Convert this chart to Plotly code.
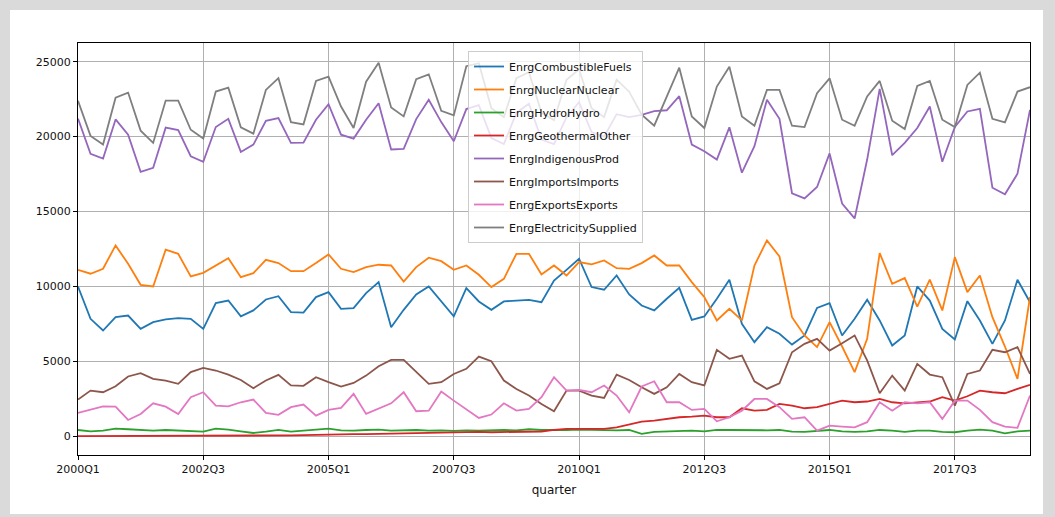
import plotly.graph_objects as go

quarters = [f"{y}Q{q}" for y in range(2000, 2020) for q in range(1, 5)][:77]
tick_labels = ["2000Q1", "2002Q3", "2005Q1", "2007Q3", "2010Q1", "2012Q3", "2015Q1", "2017Q3"]
y_ticks = [0, 5000, 10000, 15000, 20000, 25000]

combustible = [10000, 7840, 7060, 7950, 8060, 7170, 7620, 7800, 7880, 7840,
               7170, 8890, 9060, 8000, 8400, 9130, 9350, 8290, 8250, 9290,
               9620, 8510, 8550, 9550, 10290, 7280, 8440, 9470, 10000, 9000,
               8000, 9890, 9000, 8440, 9000, 9060, 9110, 8950, 10400, 11110,
               11850, 9960, 9780, 10730, 9470, 8730, 8400, 9180, 9910, 7770,
               8000, 9180, 10450, 7510, 6280, 7280, 6840, 6120, 6730, 8570,
               8890, 6730, 7840, 9110, 7730, 6060, 6730, 10000, 9060, 7170,
               6460, 9020, 7730, 6170, 7730, 10450, 8950]
nuclear = [11110, 10850, 11180, 12740, 11510, 10110, 10000, 12450, 12180, 10670,
           10910, 11400, 11890, 10620, 10890, 11780, 11560, 11020, 11020, 11560,
           12140, 11180, 10960, 11290, 11450, 11400, 10330, 11290, 11920, 11690,
           11110, 11400, 10780, 9960, 10510, 12180, 12180, 10800, 11400, 10730,
           11630, 11470, 11740, 11220, 11180, 11560, 12070, 11400, 11400, 10290,
           9290, 7730, 8510, 7730, 11400, 13070, 12000, 7950, 6730, 5950,
           7620, 5990, 4280, 6500, 12230, 10180, 10560, 8660, 10450, 8400,
           11960, 9620, 10730, 7950, 5990, 3830, 9300]
hydro = [420, 330, 380, 510, 470, 400, 380, 420, 380, 330,
         310, 510, 450, 330, 220, 310, 420, 310, 380, 420,
         510, 400, 380, 420, 450, 380, 420, 420, 380, 400,
         360, 400, 380, 420, 420, 400, 470, 420, 400, 420,
         450, 420, 400, 400, 420, 160, 300, 330, 380, 380,
         330, 420, 420, 400, 380, 400, 420, 310, 290, 350,
         420, 330, 290, 330, 420, 380, 290, 380, 380, 290,
         270, 380, 450, 380, 200, 330, 380]
geothermal = [10, 10, 10, 10, 15, 15, 20, 20, 25, 25,
              30, 30, 30, 30, 35, 40, 50, 60, 80, 100,
              150, 130, 140, 150, 170, 180, 190, 210, 230, 240,
              260, 280, 290, 270, 280, 290, 300, 320, 420, 490,
              490, 490, 500, 600, 780, 980, 1050, 1160, 1270, 1310,
              1380, 1270, 1270, 1870, 1710, 1760, 2160, 2050, 1870, 1940,
              2160, 2380, 2270, 2320, 2490, 2270, 2200, 2250, 2320, 2610,
              2380, 2670, 3050, 2940, 2870, 3160, 3430]
indigenous = [21200, 18850, 18540, 21150, 20130, 17650, 17920, 20600, 20440, 18690,
              18320, 20640, 21190, 18980, 19470, 21060, 21240, 19580, 19600, 21130,
              22170, 20130, 19870, 21130, 22230, 19140, 19180, 21170, 22460, 20970,
              19690, 21840, 22100, 19900, 19500, 21600, 22200, 19800, 19500, 21300,
              22300, 20300, 20000, 21500, 21300, 21460, 21700, 21760, 22700, 19470,
              19030, 18470, 20620, 17590, 19360, 22460, 21190, 16220, 15880, 16640,
              18880, 15540, 14540, 18470, 23190, 18760, 19580, 20575, 22010, 18320,
              20640, 21680, 21860, 16590, 16150, 17520, 21790]
imports = [2450, 3050, 2940, 3340, 3990, 4210, 3830, 3720, 3500, 4280,
           4570, 4390, 4120, 3760, 3210, 3720, 4100, 3390, 3370, 3940,
           3610, 3320, 3560, 4050, 4680, 5100, 5100, 4280, 3500, 3610,
           4160, 4500, 5320, 5010, 3720, 3160, 2720, 2160, 1670, 3050,
           3050, 2720, 2560, 4120, 3760, 3270, 2830, 3270, 4160, 3610,
           3390, 5770, 5170, 5390, 3670, 3160, 3540, 5610, 6170, 6500,
           5720, 6210, 6730, 5060, 2870, 4050, 3050, 4830, 4120, 3940,
           2050, 4160, 4390, 5770, 5610, 5950, 4160]
exports = [1560, 1760, 2000, 1980, 1090, 1490, 2200, 1980, 1490, 2610,
           2940, 2050, 2000, 2270, 2450, 1560, 1430, 1940, 2120, 1380,
           1760, 1890, 2830, 1490, 1870, 2200, 2940, 1670, 1710, 2980,
           2380, 1830, 1220, 1450, 2200, 1710, 1830, 2610, 3940, 3050,
           3100, 2940, 3390, 2720, 1600, 3320, 3670, 2270, 2270, 1760,
           1830, 1000, 1270, 1710, 2490, 2490, 1940, 1160, 1270, 380,
           710, 650, 600, 940, 2270, 1710, 2270, 2200, 2270, 1160,
           2380, 2380, 1760, 940, 650, 560, 2720]
electricity = [22390, 20050, 19470, 22600, 22940, 20400, 19580, 22410, 22410, 20460,
               19870, 23010, 23270, 20620, 20200, 23120, 23900, 20970, 20820, 23720,
               24000, 22010, 20575, 23670, 24930, 21950, 21350, 23830, 24160, 21730,
               21420, 24700, 24900, 21900, 21300, 23900, 24300, 21600, 21100, 23800,
               24500, 21900, 21300, 23800, 23000, 21460, 20730, 22680, 24600, 21350,
               20575, 23340, 24670, 21350, 20730, 23120, 23120, 20730, 20640, 22900,
               23890, 21130, 20730, 22680, 23720, 21060, 20510, 23380, 23720, 21130,
               20640, 23450, 24270, 21190, 20950, 23010, 23300]

series = [
    ("EnrgCombustibleFuels", combustible, "#1f77b4"),
    ("EnrgNuclearNuclear", nuclear, "#ff7f0e"),
    ("EnrgHydroHydro", hydro, "#2ca02c"),
    ("EnrgGeothermalOther", geothermal, "#d62728"),
    ("EnrgIndigenousProd", indigenous, "#9467bd"),
    ("EnrgImportsImports", imports, "#8c564b"),
    ("EnrgExportsExports", exports, "#e377c2"),
    ("EnrgElectricitySupplied", electricity, "#7f7f7f"),
]

fig = go.Figure()
for name, vals, color in series:
    fig.add_trace(go.Scatter(x=quarters, y=vals, mode="lines", name=name,
                             legendgroup=name,
                             line=dict(color=color, width=1.8)))

W, H = 1055, 517
L, R, T, B = 78, 25, 43, 62
pw, ph = W - L - R, H - T - B

def px(x):
    return (x - L) / pw

def py(y):
    return (H - B - y) / ph

fig.update_layout(
    width=W, height=H,
    margin=dict(l=L, r=R, t=T, b=B),
    paper_bgcolor="#dadada",
    plot_bgcolor="white",
    font=dict(family="DejaVu Sans", size=11, color="#111"),
    showlegend=True,
    legend=dict(x=px(468), y=py(51), xanchor="left", yanchor="top",
                bgcolor="rgba(255,255,255,0.8)", bordercolor="#cccccc",
                borderwidth=1, font=dict(size=11, color="#111"),
                tracegroupgap=4),
    shapes=[dict(type="rect", xref="paper", yref="paper",
                 x0=px(10), x1=px(1043), y0=py(514), y1=py(10),
                 fillcolor="white", line_width=0, layer="below")],
)
fig.update_xaxes(type="category", range=[0, 76], tickvals=tick_labels,
                 ticktext=tick_labels, showgrid=True, gridcolor="#b0b0b0",
                 gridwidth=1, showline=True, linecolor="black", linewidth=1,
                 mirror=True, ticks="outside", ticklen=4, tickcolor="black",
                 zeroline=False,
                 title=dict(text="quarter", standoff=10,
                            font=dict(size=12, color="#111")))
fig.update_yaxes(range=[-1250, 26250], tickvals=y_ticks,
                 ticktext=[str(v) for v in y_ticks],
                 showgrid=True, gridcolor="#b0b0b0", gridwidth=1,
                 showline=True, linecolor="black", linewidth=1, mirror=True,
                 ticks="outside", ticklen=4, tickcolor="black", zeroline=False)

fig.write_html("out.html", config={"displayModeBar": False},
               post_script="document.body.style.margin='0';")
